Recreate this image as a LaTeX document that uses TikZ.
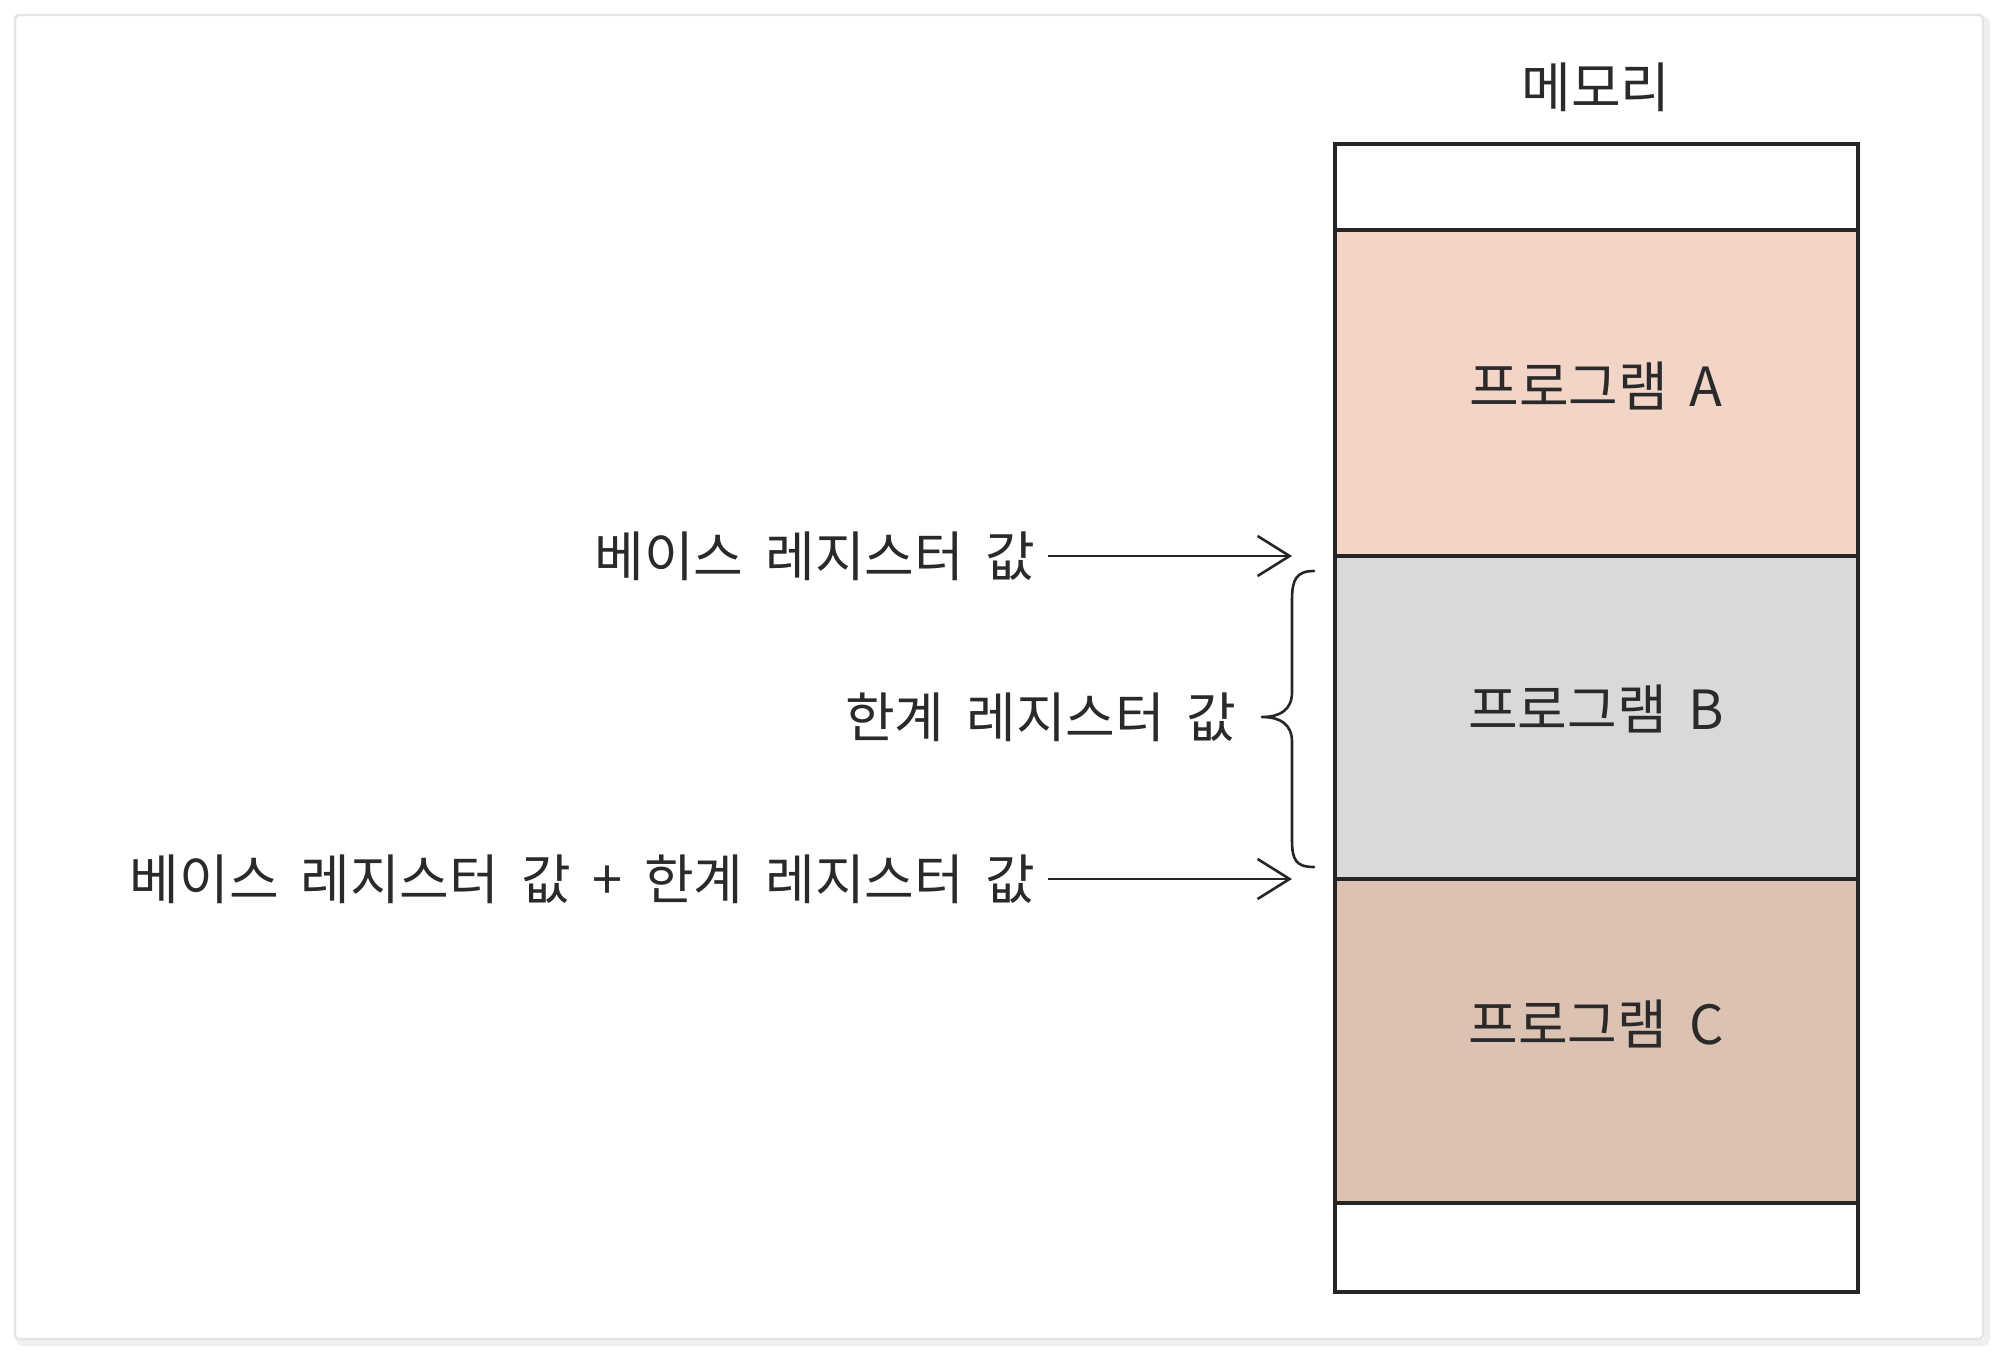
\documentclass[tikz,border=0pt]{standalone}
\usepackage{fontspec}
\setmainfont[WordSpace=1.8]{Noto Sans CJK KR}
\usetikzlibrary{arrows.meta}
\definecolor{txt}{HTML}{2A2A2A}
\definecolor{progA}{HTML}{F2D5C7}
\definecolor{progB}{HTML}{D9D9D9}
\definecolor{progC}{HTML}{DCC2B3}
\definecolor{frame}{HTML}{E4E4E4}
\tikzset{
  seg/.style={draw=black!85, line width=1.8pt, inner sep=0pt, outer sep=0pt, anchor=north west,
    minimum width=261.5pt},
  lbl/.style={text=txt, inner sep=0pt, font=\fontsize{27}{32}\selectfont},
  arr/.style={draw=black!85, line width=1.3pt, -{Straight Barb[length=16pt,width=20pt,line width=1.3pt]}},
}
\begin{document}
\begin{tikzpicture}[x=0.5pt,y=-0.5pt]
\useasboundingbox (0,0) rectangle (2000,1353);
\fill[white] (0,0) rectangle (2000,1353);
% outer frame with soft shadow
\draw[frame!60, line width=3pt, rounded corners=2pt] (19,19) rectangle (1987,1343);
\draw[frame, line width=1.2pt, rounded corners=2pt, fill=white] (15,15) rectangle (1983,1339);
% memory column
\node[lbl] (mem) at (1596,87) {메모리};
\node[seg, fill=white, minimum height=43pt] (top) at (1335,144) {};
\node[seg, fill=progA, minimum height=163pt] (pA) at (1335,230) {};
\node[seg, fill=progB, minimum height=161.5pt] (pB) at (1335,556) {};
\node[seg, fill=progC, minimum height=162pt] (pC) at (1335,879) {};
\node[seg, fill=white, minimum height=44.5pt] (bot) at (1335,1203) {};
\node[lbl] (tA) at (1596,386) {프로그램 A};
\node[lbl] (tB) at (1596,709) {프로그램 B};
\node[lbl] (tC) at (1596,1024) {프로그램 C};
% labels
\node[lbl, anchor=east] (base) at (1036,556) {베이스 레지스터 값};
\node[lbl, anchor=east] (limit) at (1237,717) {한계 레지스터 값};
\node[lbl, anchor=east] (sum) at (1036,879) {베이스 레지스터 값 + 한계 레지스터 값};
% arrows
\coordinate (baseEnd) at ([xshift=-21.5pt]pB.north west);
\coordinate (sumEnd) at ([xshift=-21.5pt]pB.south west);
\draw[arr] ([xshift=6pt]base.east) -- (baseEnd);
\draw[arr] ([xshift=6pt]sum.east) -- (sumEnd);
% brace
\coordinate (brTop) at (1314,571);
\coordinate (brTip) at (1262,717);
\coordinate (brBot) at (1314,867);
\draw[black!85, line width=1.3pt, line cap=round, line join=round]
  (brTop) .. controls (1296,571) and (1292,580) .. (1292,600)
  -- (1292,692) .. controls (1292,710) and (1280,717) .. (brTip)
  .. controls (1280,717) and (1292,724) .. (1292,742)
  -- (1292,840) .. controls (1292,860) and (1296,867) .. (brBot);
\end{tikzpicture}
\end{document}
